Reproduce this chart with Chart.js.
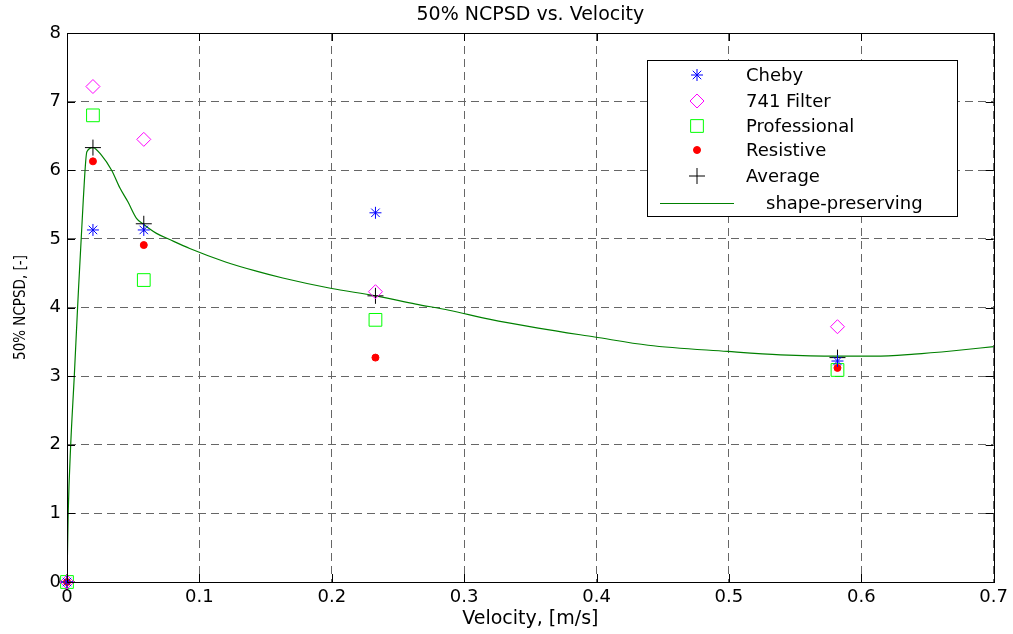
<!DOCTYPE html>
<html>
<head>
<meta charset="utf-8">
<script src="https://cdn.jsdelivr.net/npm/chart.js@4.4.1/dist/chart.umd.min.js"></script>
<style>
  html, body { margin: 0; padding: 0; background: #fff; }
</style>
</head>
<body>
<canvas id="myChart" width="1013" height="634"></canvas>
<script>
// measured points, 50% NCPSD for each velocity
const velocities   = [0, 0.0196, 0.058, 0.233, 0.582];
const cheby        = [0, 5.13, 5.13, 5.38, 3.22];
const filter741    = [0, 7.22, 6.45, 4.23, 3.72];
const professional = [0, 6.80, 4.40, 3.82, 3.09];
const resistive    = [0, 6.13, 4.91, 3.27, 3.12];
const average      = [0, 6.33, 5.22, 4.17, 3.27];

// shape-preserving fit
const curveX = [0, 0.0009, 0.0028, 0.0055, 0.008, 0.0123, 0.015, 0.0196, 0.026, 0.0337, 0.040, 0.046,
                0.0525, 0.058, 0.0676, 0.0776, 0.0927, 0.1203, 0.143, 0.163, 0.199, 0.233, 0.2635,
                0.2886, 0.3188, 0.356, 0.3986, 0.439, 0.499, 0.539, 0.582, 0.61, 0.64, 0.67, 0.7];
const curveY = [0, 1, 2, 3, 4, 5.57, 6.27, 6.33, 6.22, 6.0, 5.74, 5.54,
                5.30, 5.21, 5.08, 4.99, 4.86, 4.66, 4.53, 4.43, 4.28, 4.17, 4.05,
                3.96, 3.83, 3.70, 3.57, 3.45, 3.36, 3.31, 3.29, 3.29, 3.32, 3.37, 3.43];

const xTicks = [0, 0.1, 0.2, 0.3, 0.4, 0.5, 0.6, 0.7];
const yTicks = [0, 1, 2, 3, 4, 5, 6, 7, 8];

const FONT = "'DejaVu Sans', sans-serif";

function pts(ys) {
    return velocities.map((v, i) => ({ x: v, y: ys[i] }));
}

const series = [
    { label: 'Cheby',        data: pts(cheby),        pointStyle: 'star',    pointRadius: 6,   color: '#0000ff', fill: false },
    { label: '741 Filter',   data: pts(filter741),    pointStyle: 'rectRot', pointRadius: 7,   color: '#ff00ff', fill: false },
    { label: 'Professional', data: pts(professional), pointStyle: 'rect',    pointRadius: 9,   color: '#00ff00', fill: false },
    { label: 'Resistive',    data: pts(resistive),    pointStyle: 'circle',  pointRadius: 3.5, color: '#ff0000', fill: true },
    { label: 'Average',      data: pts(average),      pointStyle: 'cross',   pointRadius: 8,   color: '#000000', fill: false }
];

const datasets = series.map(s => ({
    type: 'scatter',
    label: s.label,
    data: s.data,
    pointStyle: s.pointStyle,
    pointRadius: s.pointRadius,
    borderColor: s.color,
    backgroundColor: s.fill ? s.color : 'rgba(0,0,0,0)',
    borderWidth: 1,
    clip: false,
    order: 1
}));

datasets.push({
    type: 'line',
    label: 'shape-preserving',
    data: curveX.map((x, i) => ({ x: x, y: curveY[i] })),
    borderColor: '#008000',
    borderWidth: 1.2,
    pointRadius: 0,
    cubicInterpolationMode: 'monotone',
    fill: false,
    order: 10
});

// MATLAB style box, inward ticks on all sides, legend inside the axes
const framePlugin = {
    id: 'frame',
    afterDraw(chart) {
        const ctx = chart.ctx;
        const a = chart.chartArea;
        const xs = chart.scales.x, ys = chart.scales.y;
        ctx.save();
        ctx.strokeStyle = '#000';
        ctx.lineWidth = 1;
        ctx.setLineDash([]);
        ctx.strokeRect(Math.round(a.left) + 0.5, Math.round(a.top) + 0.5,
                       Math.round(a.right - a.left), Math.round(a.bottom - a.top));
        const tl = 8;
        ctx.beginPath();
        xTicks.forEach(v => {
            const px = Math.round(xs.getPixelForValue(v)) + 0.5;
            ctx.moveTo(px, a.bottom); ctx.lineTo(px, a.bottom - tl);
            ctx.moveTo(px, a.top); ctx.lineTo(px, a.top + tl);
        });
        yTicks.forEach(v => {
            const py = Math.round(ys.getPixelForValue(v)) + 0.5;
            ctx.moveTo(a.left, py); ctx.lineTo(a.left + tl, py);
            ctx.moveTo(a.right, py); ctx.lineTo(a.right - tl, py);
        });
        ctx.stroke();

        // legend
        const bx = 647, by = 60, bw = 310, bh = 156;
        ctx.fillStyle = '#fff';
        ctx.fillRect(bx, by, bw, bh);
        ctx.strokeRect(bx + 0.5, by + 0.5, bw, bh);
        ctx.font = '18px ' + FONT;
        ctx.textBaseline = 'middle';
        ctx.textAlign = 'left';
        const rows = [75, 101, 126, 150, 176];
        series.forEach((s, i) => {
            ctx.strokeStyle = s.color;
            ctx.fillStyle = s.fill ? s.color : 'rgba(0,0,0,0)';
            ctx.lineWidth = 1;
            Chart.helpers.drawPoint(ctx, { pointStyle: s.pointStyle, radius: s.pointRadius, rotation: 0, borderWidth: 1 }, 697, rows[i]);
            ctx.fillStyle = '#000';
            ctx.fillText(s.label, 746, rows[i] + 1);
        });
        ctx.strokeStyle = '#008000';
        ctx.lineWidth = 1.2;
        ctx.beginPath();
        ctx.moveTo(660, 203.5); ctx.lineTo(734, 203.5);
        ctx.stroke();
        ctx.fillStyle = '#000';
        ctx.fillText('shape-preserving', 766, 204);
        ctx.restore();
    }
};

const ctx = document.getElementById('myChart').getContext('2d');
new Chart(ctx, {
    data: { datasets: datasets },
    options: {
        responsive: false,
        animation: false,
        events: [],
        layout: { padding: { top: 0, right: 17, left: 0, bottom: 0 } },
        plugins: {
            legend: { display: false },
            tooltip: { enabled: false },
            title: {
                display: true,
                text: '50% NCPSD vs. Velocity',
                color: '#000',
                fullSize: false,
                font: { family: FONT, size: 19, weight: 'normal' },
                padding: { top: 4, bottom: 6.2 }
            }
        },
        scales: {
            x: {
                type: 'linear',
                min: 0, max: 0.7,
                afterBuildTicks: s => { s.ticks = xTicks.map(v => ({ value: v })); },
                afterFit: s => { s.height = 52; },
                ticks: {
                    color: '#000',
                    padding: 5,
                    maxRotation: 0,
                    font: { family: FONT, size: 18 },
                    callback: v => String(Math.round(v * 10) / 10)
                },
                grid: { color: '#666', lineWidth: 1, drawTicks: false },
                border: { display: true, color: '#000', dash: [8, 5] },
                title: {
                    display: true,
                    text: 'Velocity, [m/s]',
                    color: '#000',
                    font: { family: FONT, size: 19 },
                    padding: { top: 0, bottom: 4 }
                }
            },
            y: {
                type: 'linear',
                min: 0, max: 8,
                afterBuildTicks: s => { s.ticks = yTicks.map(v => ({ value: v })); },
                afterFit: s => { s.width = 67; },
                ticks: {
                    color: '#000',
                    padding: 6,
                    font: { family: FONT, size: 18 }
                },
                grid: { color: '#666', lineWidth: 1, drawTicks: false },
                border: { display: true, color: '#000', dash: [8, 5] },
                title: {
                    display: true,
                    text: '50% NCPSD, [-]',
                    color: '#000',
                    font: { family: "'Liberation Sans Narrow', 'DejaVu Sans Condensed', sans-serif", size: 15 },
                    padding: { top: 12, bottom: 0 }
                }
            }
        }
    },
    plugins: [framePlugin]
});
</script>
</body>
</html>
